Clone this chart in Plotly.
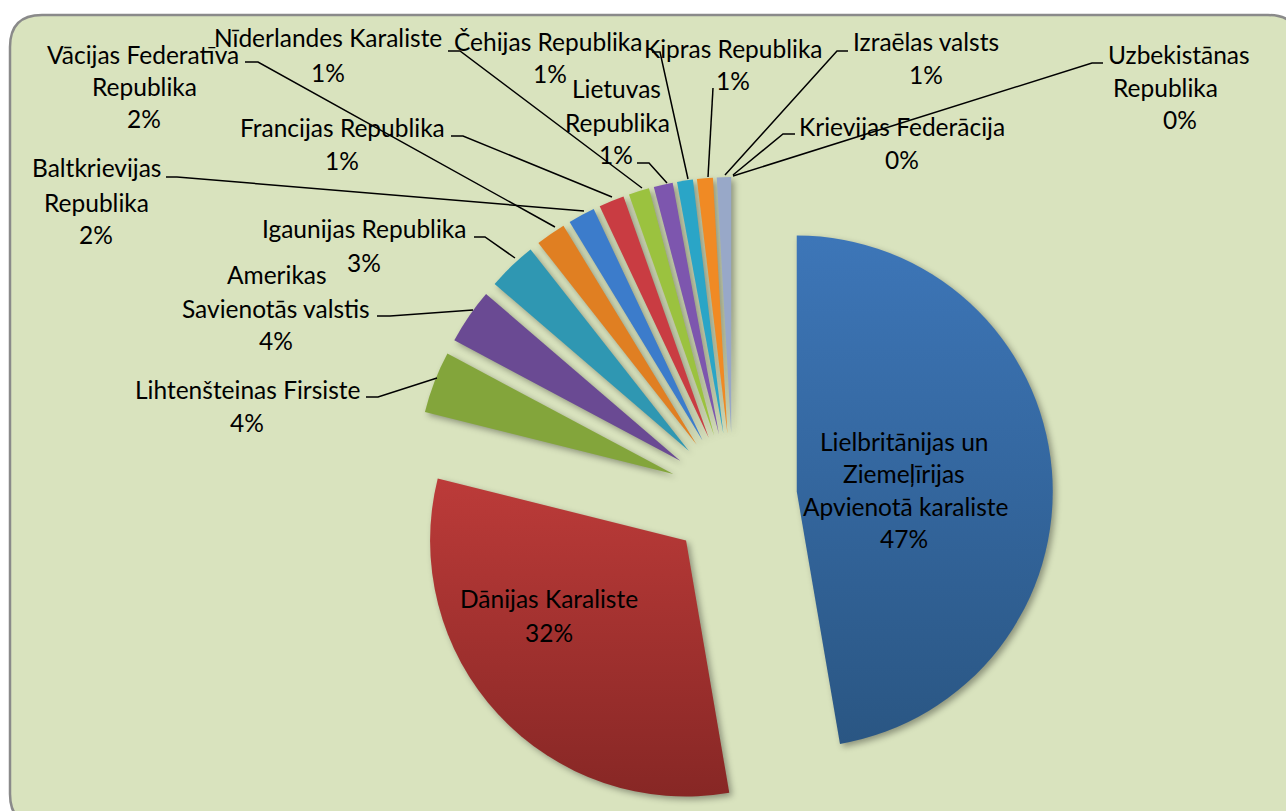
import plotly.graph_objects as go

W, H = 1286, 840

countries = ["Lielbritānijas un Ziemeļīrijas Apvienotā karaliste", "Dānijas Karaliste", "Lihtenšteinas Firsiste",
             "Amerikas Savienotās valstis", "Igaunijas Republika", "Vācijas Federatīva Republika",
             "Baltkrievijas Republika", "Francijas Republika", "Nīderlandes Karaliste", "Čehijas Republika",
             "Lietuvas Republika", "Kipras Republika", "Izraēlas valsts", "Krievijas Federācija", "Uzbekistānas Republika"]
shares = [47.3, 31.6, 3.9, 3.5, 3.1, 1.9, 1.7, 1.6, 0.0, 1.3, 1.2, 1.0, 1.0, 0.9, 0.0]
colors = ["#33659f", "#a23331", "#83a53b", "#6a4a93", "#2f97b2", "#e07f22", "#3c7ccb", "#c93c42",
          "#9bc23f", "#9bc23f", "#7d56ae", "#2aa5c7", "#f08a24", "#98a8c8", "#98a8c8"]

label_lines = [
    ("Lielbritānijas un", 904, 441), ("Ziemeļīrijas", 904, 473), ("Apvienotā karaliste", 905, 506), ("47%", 904, 538),
    ("Dānijas Karaliste", 549, 598), ("32%", 549, 632),
    ("Lihtenšteinas Firsiste", 247, 389), ("4%", 247, 422),
    ("Amerikas", 277, 275), ("Savienotās valstis", 276, 308), ("4%", 276, 340),
    ("Igaunijas Republika", 364, 229), ("3%", 364, 262),
    ("Vācijas Federatīva", 143, 55), ("Republika", 144, 87), ("2%", 144, 119),
    ("Baltkrievijas", 96, 168), ("Republika", 96, 202), ("2%", 96, 234),
    ("Francijas Republika", 342, 127), ("1%", 342, 160),
    ("Nīderlandes Karaliste", 328, 38), ("1%", 328, 72),
    ("Čehijas Republika", 548, 41), ("1%", 550, 73),
    ("Lietuvas", 616, 89), ("Republika", 617, 122), ("1%", 616, 154),
    ("Kipras Republika", 733, 48), ("1%", 733, 81),
    ("Izraēlas valsts", 926, 41), ("1%", 926, 74),
    ("Krievijas Federācija", 902, 126), ("0%", 902, 159),
    ("Uzbekistānas", 1179, 55), ("Republika", 1165, 88), ("0%", 1180, 120),
]

leaders = [
    [(366, 397), (378, 397), (437, 378)],
    [(377, 316), (390, 316), (473, 310)],
    [(474, 237), (485, 237), (515, 258)],
    [(245, 62), (258, 62), (555, 227)],
    [(166, 177), (177, 177), (584, 211)],
    [(451, 136), (463, 136), (612, 197)],
    [(448, 51), (460, 51), (642, 188)],
    [(637, 163), (649, 163), (667, 183)],
    [(652, 52), (660, 52), (688, 179)],
    [(713, 88), (708, 177)],
    [(848, 51), (837, 51), (725, 175)],
    [(795, 134), (783, 134), (733, 175)],
    [(1103, 63), (1092, 63), (733, 176)],
]

cx, cy, R = 733, 497, 320
px = lambda x: x / W
py = lambda y: 1 - y / H

fig = go.Figure(go.Pie(
    labels=countries, values=shares, sort=False, direction="clockwise", rotation=0,
    pull=[0.25] * len(shares), textinfo="none", hoverinfo="label+percent", showlegend=False,
    marker=dict(colors=colors, line=dict(width=0)),
    domain=dict(x=[px(cx - R), px(cx + R)], y=[py(cy + R), py(cy - R)]),
))

x0, y0, x1, y1, r = 10, 15, 1300, 826, 32
panel = (f"M {px(x0 + r)} {py(y0)} L {px(x1 - r)} {py(y0)} Q {px(x1)} {py(y0)} {px(x1)} {py(y0 + r)} "
         f"L {px(x1)} {py(y1 - r)} Q {px(x1)} {py(y1)} {px(x1 - r)} {py(y1)} L {px(x0 + r)} {py(y1)} "
         f"Q {px(x0)} {py(y1)} {px(x0)} {py(y1 - r)} L {px(x0)} {py(y0 + r)} Q {px(x0)} {py(y0)} {px(x0 + r)} {py(y0)} Z")
shapes = [dict(type="path", xref="paper", yref="paper", path=panel, fillcolor="#d9e3be",
               line=dict(color="#8a8a8a", width=2.5), layer="below")]
for pts in leaders:
    path = "M " + " L ".join(f"{px(x)} {py(y)}" for x, y in pts)
    shapes.append(dict(type="path", xref="paper", yref="paper", path=path,
                       line=dict(color="#000000", width=1.5), layer="above"))

annotations = [dict(text=t, x=px(x), y=py(y), xref="paper", yref="paper", xanchor="center", yanchor="middle",
                    showarrow=False, font=dict(family="Lato", size=24.5, color="#000000"))
               for t, x, y in label_lines]

fig.update_layout(width=W, height=H, margin=dict(l=0, r=0, t=0, b=0), paper_bgcolor="#ffffff",
                  shapes=shapes, annotations=annotations)

post = """
document.body.style.margin = '0';
document.documentElement.style.overflow = 'hidden';
document.body.style.overflow = 'hidden';
var gd = document.getElementsByClassName('plotly-graph-div')[0];
var svg = gd.querySelector('svg.main-svg');
var NS = 'http://www.w3.org/2000/svg';
var defs = document.createElementNS(NS, 'defs');
[['gBlue', '#3d76b8', '#2a5683'], ['gRed', '#bc3b39', '#872725']].forEach(function (g) {
  var lg = document.createElementNS(NS, 'linearGradient');
  lg.setAttribute('id', g[0]); lg.setAttribute('x1', '0'); lg.setAttribute('y1', '0');
  lg.setAttribute('x2', '0'); lg.setAttribute('y2', '1');
  [[0, g[1]], [1, g[2]]].forEach(function (s) {
    var st = document.createElementNS(NS, 'stop');
    st.setAttribute('offset', s[0]); st.setAttribute('stop-color', s[1]); lg.appendChild(st);
  });
  defs.appendChild(lg);
});
svg.appendChild(defs);
var paths = gd.querySelectorAll('g.slice path.surface');
paths.forEach(function (p, i) {
  if (i === 0) p.style.fill = 'url(#gBlue)';
  if (i === 1) p.style.fill = 'url(#gRed)';
  p.style.filter = 'drop-shadow(3px 3px 3px rgba(0,0,0,0.35))';
});
"""
fig.write_html("out.html", post_script=post, config=dict(displayModeBar=False))
